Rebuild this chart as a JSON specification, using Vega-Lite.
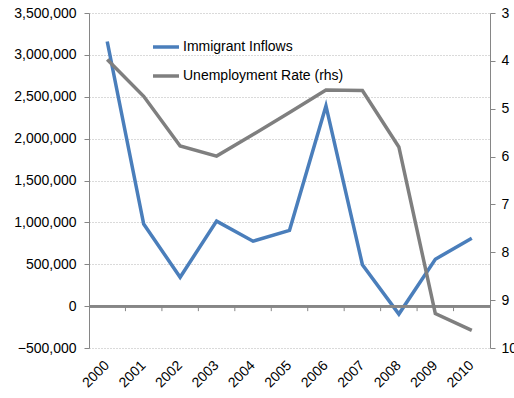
{
  "$schema": "https://vega.github.io/schema/vega-lite/v6.json",
  "autosize": {"type": "none"},
  "width": 401,
  "height": 335,
  "padding": {"left": 89, "top": 13, "right": 24, "bottom": 50},
  "background": "white",
  "config": {
    "font": "Liberation Sans",
    "view": {"stroke": null},
    "axis": {"labelFont": "Liberation Sans", "labelFontSize": 14, "labelColor": "#000000", "titleFont": "Liberation Sans"},
    "legend": {"labelFont": "Liberation Sans", "labelFontSize": 14, "labelColor": "#000000", "labelLimit": 400}
  },
  "data": {
    "values": [
      {"year": 2000, "inflows": 3160000, "unemployment": 3.97},
      {"year": 2001, "inflows": 980000, "unemployment": 4.74},
      {"year": 2002, "inflows": 345000, "unemployment": 5.78},
      {"year": 2003, "inflows": 1015000, "unemployment": 5.99},
      {"year": 2004, "inflows": 775000, "unemployment": 5.54},
      {"year": 2005, "inflows": 905000, "unemployment": 5.08},
      {"year": 2006, "inflows": 2390000, "unemployment": 4.61},
      {"year": 2007, "inflows": 495000, "unemployment": 4.62},
      {"year": 2008, "inflows": -95000, "unemployment": 5.8},
      {"year": 2009, "inflows": 560000, "unemployment": 9.28},
      {"year": 2010, "inflows": 810000, "unemployment": 9.63}
    ]
  },
  "encoding": {
    "x": {
      "field": "year",
      "type": "ordinal",
      "scale": {"paddingInner": 0, "paddingOuter": 0},
      "axis": {
        "title": null,
        "labelAngle": -45,
        "labelAlign": "right",
        "labelBaseline": "middle",
        "domain": false,
        "ticks": false,
        "grid": false,
        "labelPadding": 15
      }
    }
  },
  "layer": [
    {
      "encoding": {
        "y": {
          "field": "inflows",
          "type": "quantitative",
          "scale": {"domain": [-500000, 3500000], "nice": false, "zero": false},
          "axis": {
            "title": null,
            "orient": "left",
            "values": [-500000, 0, 500000, 1000000, 1500000, 2000000, 2500000, 3000000, 3500000],
            "format": ",d",
            "domainColor": "#868686",
            "tickColor": "#868686",
            "tickSize": 5,
            "labelPadding": 8,
            "grid": true,
            "gridColor": "#b4b4b4",
            "gridDash": [1, 2],
            "gridWidth": 1
          }
        }
      },
      "layer": [
        {
          "mark": {"type": "line", "strokeWidth": 3.5},
          "encoding": {
            "color": {"datum": "Immigrant Inflows"}
          }
        },
        {
          "mark": {"type": "rule", "color": "#868686", "strokeWidth": 2},
          "encoding": {
            "x": null,
            "y": {"datum": 0, "type": "quantitative"}
          }
        },
        {
          "transform": [{"filter": "datum.year > 2000"}],
          "mark": {"type": "rule", "color": "#868686", "strokeWidth": 1},
          "encoding": {
            "x": {"field": "year", "type": "ordinal", "bandPosition": 0},
            "y": {"datum": 0, "type": "quantitative"},
            "y2": {"datum": -60000}
          }
        }
      ]
    },
    {
      "mark": {"type": "line", "strokeWidth": 3.5},
      "encoding": {
        "y": {
          "field": "unemployment",
          "type": "quantitative",
          "scale": {"domain": [3, 10], "reverse": true, "nice": false, "zero": false},
          "axis": {
            "title": null,
            "orient": "right",
            "values": [3, 4, 5, 6, 7, 8, 9, 10],
            "domainColor": "#868686",
            "tickColor": "#868686",
            "tickSize": 5,
            "labelPadding": 6,
            "grid": false
          }
        },
        "color": {
          "datum": "Unemployment Rate (rhs)",
          "scale": {"domain": ["Immigrant Inflows", "Unemployment Rate (rhs)"], "range": ["#4a7ebb", "#7f7f7f"]},
          "legend": {
            "title": null,
            "orient": "none",
            "legendX": 62,
            "legendY": 19,
            "symbolType": "stroke",
            "symbolSize": 676,
            "symbolStrokeWidth": 3.5,
            "rowPadding": 7,
            "labelOffset": 2,
            "labelLimit": 400,
            "padding": 0
          }
        }
      }
    }
  ],
  "resolve": {"scale": {"y": "independent"}}
}
